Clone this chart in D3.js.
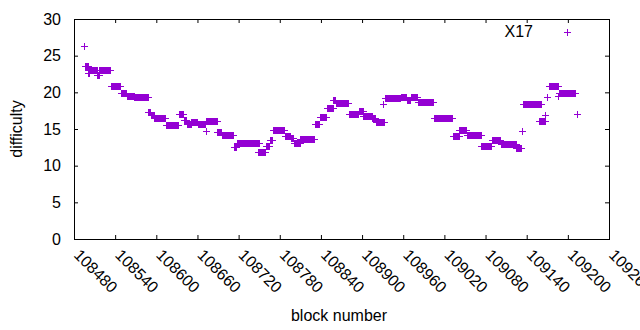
<!DOCTYPE html>
<html>
<head>
<meta charset="utf-8">
<script src="https://cdn.jsdelivr.net/npm/d3@7"></script>
<style>
  body { margin: 0; background: #fff; }
  svg { display: block; font-family: "Liberation Sans", Arial, sans-serif; }
  .axis path.domain { display: none; }
  .axis line { stroke: #000; }
  .axis text { font-size: 16px; fill: #000; font-family: "Liberation Sans", Arial, sans-serif; }
</style>
</head>
<body>
<script>
// difficulty runs: [first block, last block, difficulty]
var runStart = [108494, 108496, 108501, 108501, 108513, 108517, 108534, 108548, 108557, 108568,
                108588, 108592, 108597, 108614, 108633, 108640, 108645, 108651, 108661, 108672,
                108673, 108689, 108696, 108713, 108717, 108748, 108760, 108766, 108770, 108787,
                108796, 108801, 108810, 108831, 108838, 108849, 108858, 108862, 108881, 108895,
                108902, 108915, 108920, 108930, 108933, 108957, 108965, 108971, 108981, 109005,
                109032, 109042, 109053, 109074, 109089, 109102, 109125, 109133, 109134, 109158,
                109167, 109169, 109172, 109185, 109187, 109214];
var runEnd   = [108494, 108500, 108502, 108514, 108516, 108533, 108547, 108556, 108567, 108588,
                108591, 108596, 108613, 108632, 108639, 108644, 108650, 108660, 108671, 108672,
                108688, 108695, 108712, 108716, 108750, 108759, 108765, 108769, 108786, 108795,
                108800, 108809, 108830, 108837, 108848, 108857, 108861, 108880, 108894, 108901,
                108914, 108919, 108932, 108930, 108956, 108964, 108970, 108980, 109004, 109031,
                109041, 109052, 109073, 109088, 109101, 109124, 109131, 109133, 109161, 109166,
                109167, 109169, 109186, 109185, 109211, 109214];
var runDiff  = [26.3, 23.6, 22.7, 23.1, 22.4, 23.0, 20.8, 19.9, 19.55, 19.3,
                17.3, 16.9, 16.45, 15.55, 17.0, 16.2, 15.7, 16.0, 15.65, 14.7,
                16.05, 14.55, 14.15, 12.5, 13.05, 11.85, 12.7, 13.5, 14.8, 14.1,
                13.8, 13.05, 13.7, 15.7, 16.7, 17.9, 18.9, 18.5, 17.0, 17.5,
                16.8, 16.45, 16.0, 18.4, 19.2, 19.35, 18.9, 19.3, 18.65, 16.45,
                14.0, 14.8, 14.15, 12.7, 13.5, 13.0, 12.4, 14.7, 18.35, 16.1,
                16.9, 19.4, 20.85, 19.5, 19.9, 17.1];

var xTicks = [108480, 108540, 108600, 108660, 108720, 108780, 108840, 108900,
              108960, 109020, 109080, 109140, 109200, 109260];
var yTicks = [0, 5, 10, 15, 20, 25, 30];
var seriesName = "X17";

var w = 640, h = 330;
var margin = {top: 19, right: 31, bottom: 91, left: 74};

var points = [];
runStart.forEach(function(s, i) {
  for (var b = s; b <= runEnd[i]; b++) points.push({block: b, diff: runDiff[i]});
});

var x = d3.scaleLinear()
  .domain([108480, 109260])
  .range([margin.left, w - margin.right]);

var y = d3.scaleLinear()
  .domain([0, 30])
  .range([h - margin.bottom, margin.top]);

var svg = d3.select("body").append("svg")
  .attr("width", w)
  .attr("height", h);

var color = "#9400d3";

// axes (gnuplot style: ticks inward, mirrored)
svg.append("g")
  .attr("class", "axis")
  .attr("transform", "translate(" + margin.left + ",0)")
  .call(d3.axisLeft(y).tickValues(yTicks).tickSize(-4).tickPadding(13));

svg.append("g")
  .attr("class", "axis")
  .attr("transform", "translate(" + (w - margin.right) + ",0)")
  .call(d3.axisRight(y).tickValues(yTicks).tickSize(-4).tickFormat(""));

svg.append("g")
  .attr("class", "axis")
  .attr("transform", "translate(0," + (h - margin.bottom) + ")")
  .call(d3.axisBottom(x).tickValues(xTicks).tickSize(-4).tickFormat(""));

svg.append("g")
  .attr("class", "axis")
  .attr("transform", "translate(0," + margin.top + ")")
  .call(d3.axisTop(x).tickValues(xTicks).tickSize(-4).tickFormat(""));

svg.append("rect")
  .attr("x", margin.left + 0.5)
  .attr("y", margin.top + 0.5)
  .attr("width", w - margin.right - margin.left)
  .attr("height", h - margin.bottom - margin.top)
  .attr("fill", "none")
  .attr("stroke", "#000");

// rotated x tick labels
svg.selectAll(".xlab")
  .data(xTicks)
  .enter()
  .append("text")
  .attr("class", "xlab")
  .attr("transform", function(d) {
    return "translate(" + (x(d) - 1) + "," + (h - margin.bottom + 17) + ") rotate(45)";
  })
  .attr("font-size", 16)
  .text(function(d) { return d; });

// points
function plus(px, py) {
  var cx = Math.round(px) + 0.5, cy = Math.round(py) + 0.5;
  return "M" + (cx - 3.5) + "," + cy + "H" + (cx + 3.5) + "M" + cx + "," + (cy - 3.5) + "V" + (cy + 3.5);
}

svg.append("path")
  .attr("d", points.map(function(d) { return plus(x(d.block), y(d.diff)); }).join(""))
  .attr("stroke", color)
  .attr("stroke-width", 1)
  .attr("fill", "none");

// legend
svg.append("text")
  .attr("x", 533)
  .attr("y", 37)
  .attr("text-anchor", "end")
  .attr("font-size", 16)
  .text(seriesName);

svg.append("path")
  .attr("d", plus(567, 32))
  .attr("stroke", color)
  .attr("fill", "none");

// axis titles
svg.append("text")
  .attr("x", 339)
  .attr("y", 321)
  .attr("text-anchor", "middle")
  .attr("font-size", 16)
  .text("block number");

svg.append("text")
  .attr("transform", "translate(22,129) rotate(-90)")
  .attr("text-anchor", "middle")
  .attr("font-size", 16)
  .text("difficulty");
</script>
</body>
</html>
